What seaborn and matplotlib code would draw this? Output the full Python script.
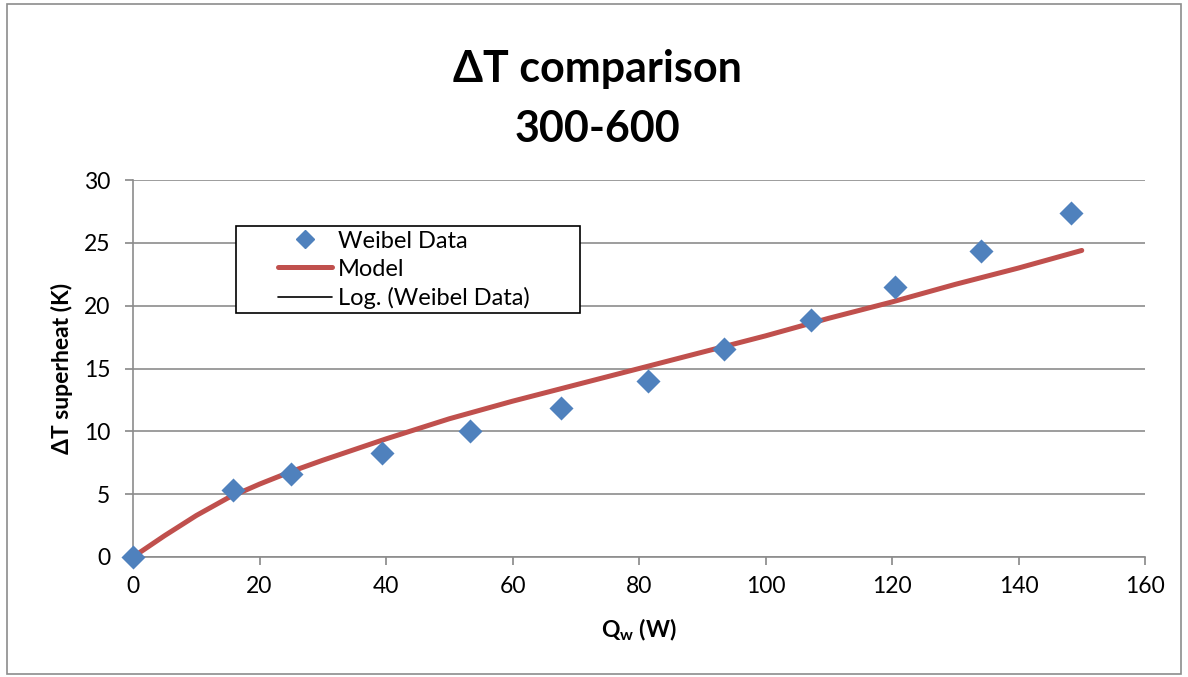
import numpy as np
import pandas as pd
import matplotlib
matplotlib.use("Agg")
import matplotlib.pyplot as plt
from matplotlib.lines import Line2D
from matplotlib.patches import Rectangle
import seaborn as sns

# data
q_data = [0, 15.8, 25.0, 39.4, 53.3, 67.7, 81.4, 93.4, 107.2, 120.5, 134.1, 148.3]
dt_data = [0, 5.33, 6.6, 8.27, 10.0, 11.85, 14.0, 16.55, 18.85, 21.5, 24.35, 27.4]

q_model = [0, 5, 10, 15, 20, 25, 30, 40, 50, 60, 70, 80, 90, 100, 110, 120, 130, 140, 150]
dt_model = [0, 1.7, 3.3, 4.7, 5.8, 6.8, 7.7, 9.4, 11.0, 12.4, 13.7, 15.0, 16.3, 17.6,
            19.0, 20.3, 21.7, 23.0, 24.4]

x_ticks = [0, 20, 40, 60, 80, 100, 120, 140, 160]
y_ticks = [0, 5, 10, 15, 20, 25, 30]
legend_labels = ["Weibel Data", "Model", "Log. (Weibel Data)"]

sns.set_style("white")
plt.rcParams["font.family"] = ["Lato", "DejaVu Sans"]
plt.rcParams["text.color"] = "black"
plt.rcParams["axes.labelcolor"] = "black"
plt.rcParams["mathtext.fontset"] = "custom"
plt.rcParams["mathtext.rm"] = "Lato"
plt.rcParams["mathtext.bf"] = "Lato:bold"

fig = plt.figure(figsize=(11.88, 6.77), dpi=100)
ax = fig.add_axes([0.112, 0.1773, 0.8518, 0.5567])

df_data = pd.DataFrame({"Q": q_data, "dT": dt_data})
df_model = pd.DataFrame({"Q": q_model, "dT": dt_model})

sns.lineplot(data=df_model, x="Q", y="dT", ax=ax, color="#C0504D", linewidth=3.6,
             solid_capstyle="round", zorder=3)
sns.scatterplot(data=df_data, x="Q", y="dT", ax=ax, marker="D", s=150,
                color="#4F81BD", edgecolor="#4F81BD", linewidth=0, zorder=4, clip_on=False)

ax.set_xlim(0, 160)
ax.set_ylim(0, 30)
ax.set_xticks(x_ticks)
ax.set_yticks(y_ticks)
ax.tick_params(axis="both", labelsize=16.5, length=5.5, width=1.2, color="#888888",
               direction="out", labelcolor="black")
ax.tick_params(axis="x", bottom=True, pad=8)
ax.tick_params(axis="y", left=True, pad=11)
ax.yaxis.grid(True, color="#8c8c8c", linewidth=1.2)
ax.xaxis.grid(False)
for s in ["top", "right"]:
    ax.spines[s].set_visible(False)
for s in ["left", "bottom"]:
    ax.spines[s].set_color("#8c8c8c")
    ax.spines[s].set_linewidth(1.2)

ax.set_xlabel(r"Q$_\mathbf{w}$ (W)", fontsize=16.5, fontweight="bold", labelpad=14,
              color="black")
ax.set_ylabel("ΔT superheat (K)", fontsize=16.5, fontweight="bold", labelpad=8,
              color="black")

fig.text(0.503, 0.879, "ΔT comparison", ha="center", va="baseline",
         fontsize=31, fontweight="bold", color="black")
fig.text(0.503, 0.790, "300-600", ha="center", va="baseline",
         fontsize=31, fontweight="bold", color="black")

# legend box drawn separately (Excel-style wide left margin)
ax.add_patch(Rectangle((0.1018, 0.647), 0.34, 0.231, transform=ax.transAxes,
                       facecolor="white", edgecolor="black", linewidth=1.2,
                       zorder=5, clip_on=False))
handles = [
    Line2D([], [], marker="D", color="#4F81BD", linestyle="none", markersize=9.5),
    Line2D([], [], color="#C0504D", linewidth=3.6, solid_capstyle="round"),
    Line2D([], [], color="black", linewidth=1.2),
]
leg = ax.legend(handles, legend_labels, loc="upper left",
                bbox_to_anchor=(0.143, 0.866), fontsize=17, frameon=False,
                borderpad=0, labelspacing=0.3, handlelength=2.3, handletextpad=0.25,
                borderaxespad=0, labelcolor="black")
leg.set_zorder(6)

fig.patches.append(Rectangle((0.006, 0.004), 0.988, 0.99, transform=fig.transFigure,
                             fill=False, edgecolor="#8c8c8c", linewidth=1.2))

fig.savefig("out.png", dpi=100)
